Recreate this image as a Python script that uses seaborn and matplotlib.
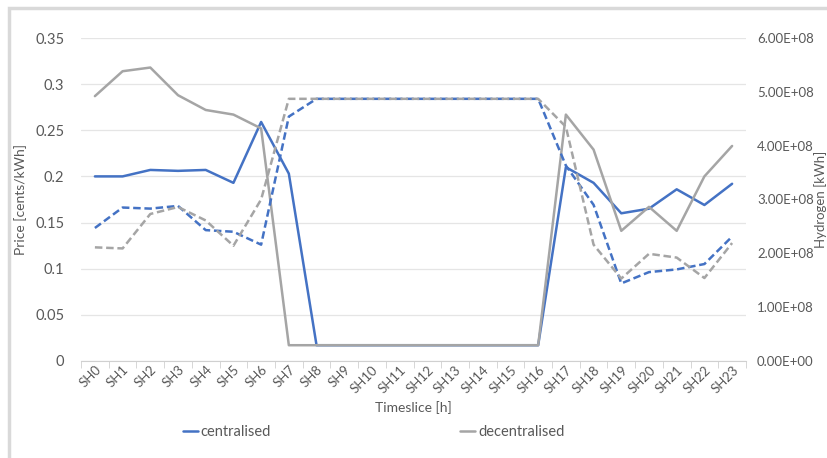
import matplotlib
matplotlib.use('Agg')
import matplotlib.pyplot as plt
import matplotlib.patches as patches
import seaborn as sns

# data
timeslices = ['SH' + str(i) for i in range(24)]

price_centralised = [0.200, 0.200, 0.207, 0.206, 0.207, 0.193, 0.259, 0.203,
                     0.017, 0.017, 0.017, 0.017, 0.017, 0.017, 0.017, 0.017,
                     0.017, 0.210, 0.193, 0.160, 0.165, 0.186, 0.169, 0.192]
price_decentralised = [0.287, 0.314, 0.318, 0.288, 0.272, 0.267, 0.252, 0.017,
                       0.017, 0.017, 0.017, 0.017, 0.017, 0.017, 0.017, 0.017,
                       0.017, 0.267, 0.229, 0.141, 0.167, 0.141, 0.200, 0.233]

# hydrogen in kWh
h2_centralised = [2.47e8, 2.85e8, 2.83e8, 2.88e8, 2.43e8, 2.40e8, 2.16e8, 4.54e8,
                  4.87e8, 4.87e8, 4.87e8, 4.87e8, 4.87e8, 4.87e8, 4.87e8, 4.87e8,
                  4.87e8, 3.63e8, 2.90e8, 1.44e8, 1.65e8, 1.70e8, 1.80e8, 2.31e8]
h2_decentralised = [2.11e8, 2.09e8, 2.73e8, 2.86e8, 2.61e8, 2.14e8, 3.00e8, 4.87e8,
                    4.87e8, 4.87e8, 4.87e8, 4.87e8, 4.87e8, 4.87e8, 4.87e8, 4.87e8,
                    4.87e8, 4.35e8, 2.16e8, 1.53e8, 1.99e8, 1.92e8, 1.54e8, 2.19e8]

BLUE = '#4472C4'
GREY = '#A5A5A5'
TXT = '#595959'

sns.set_style('white')
plt.rcParams['font.family'] = ['Lato', 'DejaVu Sans']

fig = plt.figure(figsize=(8.27, 4.58), dpi=100)
ax = fig.add_axes([0.098, 0.212, 0.804, 0.705])
ax2 = ax.twinx()

sns.lineplot(x=timeslices, y=price_centralised, ax=ax, color=BLUE, lw=1.8,
             sort=False, label='centralised')
sns.lineplot(x=timeslices, y=price_decentralised, ax=ax, color=GREY, lw=1.8,
             sort=False, label='decentralised')
sns.lineplot(x=timeslices, y=h2_centralised, ax=ax2, color=BLUE, lw=1.8,
             sort=False, linestyle=(0, (3, 1.5)), legend=False)
sns.lineplot(x=timeslices, y=h2_decentralised, ax=ax2, color=GREY, lw=1.8,
             sort=False, linestyle=(0, (3, 1.5)), legend=False)

ax.set_ylim(0, 0.35)
ax.set_yticks([0, 0.05, 0.1, 0.15, 0.2, 0.25, 0.3, 0.35])
ax.set_yticklabels(['0', '0.05', '0.1', '0.15', '0.2', '0.25', '0.3', '0.35'])
ax2.set_ylim(0, 6e8)
ax2.set_yticks([i * 1e8 for i in range(7)])
ax2.set_yticklabels(['%.2fE+08' % i if i else '0.00E+00' for i in range(7)])
ax.set_xlim(-0.5, 23.5)

ax.grid(axis='y', color='#E5E5E5', lw=0.9)
ax.set_axisbelow(True)
for a in (ax, ax2):
    for s in a.spines.values():
        s.set_visible(False)
ax.spines['bottom'].set_visible(True)
ax.spines['bottom'].set_color('#D0D0D0')

ax.set_xticks([i - 0.5 for i in range(25)], minor=True)
ax.tick_params(axis='x', which='minor', length=5, color='#D0D0D0', bottom=True)
ax.tick_params(axis='x', which='major', length=0, labelsize=9.5, labelcolor=TXT,
               pad=2)
plt.setp(ax.get_xticklabels(), rotation=45, ha='right', rotation_mode='anchor')
ax.tick_params(axis='y', length=0, labelsize=10.5, labelcolor=TXT, pad=12)
ax2.tick_params(axis='y', length=0, labelsize=9.5, labelcolor=TXT, pad=8)

ax.set_xlabel('Timeslice [h]', fontsize=10, color=TXT, labelpad=4)
ax.set_ylabel('Price [cents/kWh]', fontsize=10, color=TXT, labelpad=6)
ax2.set_ylabel('')
fig.text(0.9925, 0.565, 'Hydrogen [kWh]', rotation=90, ha='center', va='center',
         fontsize=9.5, color=TXT)

ax.legend(loc='center', bbox_to_anchor=(0.44, -0.22), ncol=2,
          frameon=False, fontsize=10.5, handlelength=1.0, handletextpad=0.2,
          columnspacing=13, labelcolor=TXT)

fig.patches.append(patches.Rectangle((0.011, -0.05), 1.2, 1.033, transform=fig.transFigure,
                                     fill=False, edgecolor='#D9D9D9', lw=2.5))

fig.savefig('out.png', dpi=100)
